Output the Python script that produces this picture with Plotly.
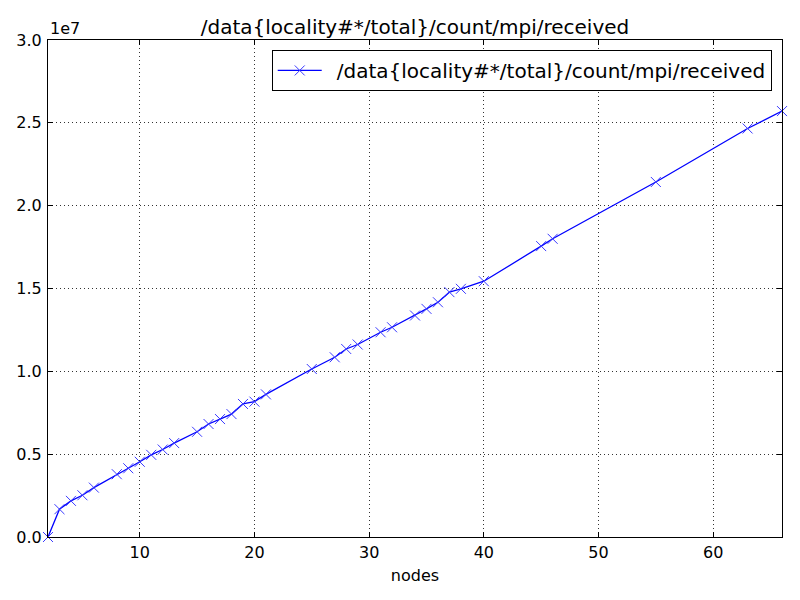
import plotly.graph_objects as go

nodes = [2, 3, 4, 5, 6, 8, 9, 10, 11, 12, 13, 15, 16, 17, 18, 19, 20, 21,
         25, 27, 28, 29, 31, 32, 34, 35, 36, 37, 38, 40, 45, 46, 55, 63, 66]
received = [0.0, 1.68e6, 2.18e6, 2.52e6, 2.98e6, 3.79e6, 4.15e6, 4.54e6,
            4.96e6, 5.28e6, 5.67e6, 6.35e6, 6.82e6, 7.12e6, 7.42e6, 8.03e6,
            8.17e6, 8.61e6, 10.14e6, 10.85e6, 11.35e6, 11.62e6, 12.36e6,
            12.66e6, 13.37e6, 13.77e6, 14.17e6, 14.78e6, 14.98e6, 15.44e6,
            17.56e6, 18.0e6, 21.43e6, 24.66e6, 25.71e6]

y_tickvals = [0, 5e6, 10e6, 15e6, 20e6, 25e6, 30e6]
y_ticktext = ["0.0", "0.5", "1.0", "1.5", "2.0", "2.5", "3.0"]
x_tickvals = [10, 20, 30, 40, 50, 60]

name = "/data{locality#*/total}/count/mpi/received"
font = "DejaVu Sans"

fig = go.Figure(
    go.Scatter(
        x=nodes,
        y=received,
        name="\u2002" + name,
        mode="lines+markers",
        line=dict(color="blue", width=1.3),
        marker=dict(symbol="x-thin", size=10, line=dict(color="#3a3aff", width=1)),
        cliponaxis=False,
    )
)

axis = dict(
    automargin=False,
    showline=True,
    linecolor="black",
    linewidth=1,
    mirror="ticks",
    ticks="inside",
    ticklen=5,
    tickcolor="black",
    showgrid=True,
    gridcolor="#333333",
    gridwidth=1,
    griddash="1px,3px",
    zeroline=False,
    tickfont=dict(family=font, size=16, color="black"),
)

fig.update_xaxes(axis, range=[2, 66], tickvals=x_tickvals, ticklabelstandoff=1,
                 title=dict(text="nodes", font=dict(family=font, size=16, color="black"),
                            standoff=8))
fig.update_yaxes(axis, range=[0, 3e7], tickvals=y_tickvals, ticktext=y_ticktext,
                 ticklabelstandoff=2)

fig.add_annotation(text="1e7", xref="paper", yref="paper", x=0, y=1,
                   xanchor="left", yanchor="bottom", showarrow=False,
                   font=dict(family=font, size=16, color="black"))

# the page body has an 8px margin, so the margins are shifted to compensate
fig.update_layout(
    width=800,
    height=600,
    margin=dict(l=40, r=26, t=32, b=71),
    paper_bgcolor="white",
    plot_bgcolor="white",
    font=dict(family=font, color="black"),
    title=dict(text=name, x=0.5, xref="paper", y=1, yref="paper",
               yanchor="bottom", pad=dict(b=6), automargin=False,
               font=dict(family=font, size=20, color="black")),
    showlegend=True,
    legend=dict(x=0.986, y=0.98, xanchor="right", yanchor="top",
                itemwidth=44, tracegroupgap=0,
                bordercolor="black", borderwidth=1, bgcolor="white",
                font=dict(family=font, size=20, color="black")),
)

fig.write_html("out.html")
